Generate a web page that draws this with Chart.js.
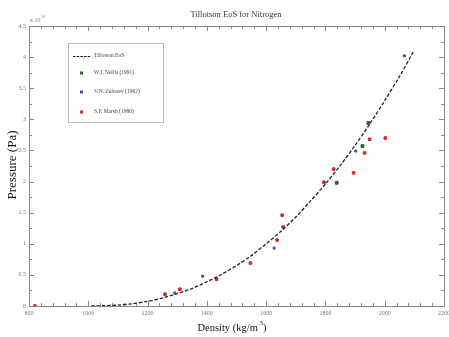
<!DOCTYPE html>
<html><head><meta charset="utf-8">
<script src="https://cdn.jsdelivr.net/npm/chart.js@4.4.0/dist/chart.umd.min.js"></script>
<style>html,body{margin:0;padding:0;background:#fff;}#wrap{width:449px;height:337px;}</style>
</head><body><div id="wrap"><canvas id="c" width="449" height="337"></canvas></div>
<script>
// Density in kg/m^3, pressure in units of 1e10 Pa
const eosDensity = [1010,1050,1100,1150,1200,1250,1300,1350,1400,1450,1500,1550,1600,1650,1700,1750,1800,1850,1900,1950,2000,2050,2096];
const eosPressure = [0,0.005,0.014,0.037,0.075,0.128,0.198,0.28,0.39,0.51,0.65,0.81,1.0,1.2,1.43,1.69,1.96,2.26,2.58,2.93,3.3,3.69,4.08];
const nellisDensity = [1838,1925,1945];
const nellisPressure = [1.98,2.57,2.94];
const zubarevDensity = [1292,1386,1627,1902,2066];
const zubarevPressure = [0.21,0.48,0.93,2.49,4.02];
const marshDensity = [820,1259,1309,1433,1547,1637,1654,1657,1795,1828,1895,1932,1949,2002];
const marshPressure = [0,0.19,0.27,0.43,0.69,1.06,1.46,1.27,1.99,2.2,2.14,2.46,2.68,2.70];
const xTickLabels = ['800','1000','1200','1400','1600','1800','2000','2200'];
const yTickLabels = ['0','0.5','1','1.5','2','2.5','3','3.5','4','4.5'];
const seriesLabels = ['Tillotson EoS','W.J. Nellis (1991)','V.N. Zubarev (1962)','S.P. Marsh (1980)'];

const pts = (xs, ys) => xs.map((x, i) => ({x: x, y: ys[i]}));

const framePlugin = {
  id: 'frame',
  beforeDatasetsDraw(chart) {
    const ctx = chart.ctx, a = chart.chartArea, xs = chart.scales.x, ys = chart.scales.y;
    ctx.save();
    ctx.strokeStyle = '#8a8a8a';
    ctx.lineWidth = 1;
    ctx.strokeRect(Math.round(a.left)+0.5, Math.round(a.top)+0.5, Math.round(a.right-a.left), Math.round(a.bottom-a.top));
    ctx.beginPath();
    for (let v = 800; v <= 2200; v += 40) {
      const px = Math.round(xs.getPixelForValue(v)) + 0.5;
      const major = (v % 200 === 0);
      const L = major ? 5 : 3;
      ctx.moveTo(px, a.bottom); ctx.lineTo(px, a.bottom - L);
      ctx.moveTo(px, a.top); ctx.lineTo(px, a.top + L);
    }
    for (let k = 0; k <= 18; k++) {
      const v = k * 0.25;
      const py = Math.round(ys.getPixelForValue(v)) + 0.5;
      const L = (k % 2 === 0) ? 5 : 3;
      ctx.moveTo(a.left, py); ctx.lineTo(a.left + L, py);
      ctx.moveTo(a.right, py); ctx.lineTo(a.right - L, py);
    }
    ctx.stroke();
    // tick labels
    ctx.fillStyle = '#777';
    ctx.font = '6px "Liberation Serif", serif';
    ctx.textAlign = 'center'; ctx.textBaseline = 'top';
    xTickLabels.forEach(t => {
      ctx.fillText(t, xs.getPixelForValue(Number(t)), a.bottom + 4);
    });
    ctx.textAlign = 'right'; ctx.textBaseline = 'middle';
    yTickLabels.forEach(t => {
      ctx.fillText(t, a.left - 3, ys.getPixelForValue(Number(t)));
    });
    ctx.textAlign = 'left'; ctx.textBaseline = 'alphabetic';
    ctx.fillText('x 10', a.left + 1, a.top - 4);
    ctx.font = '4px "Liberation Serif", serif';
    ctx.fillText('10', a.left + 12, a.top - 8);
    // title
    ctx.fillStyle = '#333';
    ctx.font = '8.5px "Liberation Serif", serif';
    ctx.textAlign = 'center';
    ctx.fillText('Tillotson EoS for Nitrogen', 236, 17);
    // axis titles
    ctx.fillStyle = '#111';
    const bigF = '10.5px "Liberation Serif", serif';
    ctx.font = bigF;
    const t1 = 'Density (kg/m', t2 = ')';
    const w1 = ctx.measureText(t1).width;
    ctx.font = '7px "Liberation Serif", serif';
    const w3 = ctx.measureText(' 3').width;
    ctx.font = bigF;
    const w2 = ctx.measureText(t2).width;
    let sx = 232 - (w1 + w3 + w2) / 2;
    ctx.textAlign = 'left';
    ctx.fillText(t1, sx, 331);
    ctx.font = '7px "Liberation Serif", serif';
    ctx.fillText(' 3', sx + w1, 325);
    ctx.font = bigF;
    ctx.fillText(t2, sx + w1 + w3, 331);
    ctx.save();
    ctx.translate(16, 165);
    ctx.rotate(-Math.PI / 2);
    ctx.textAlign = 'center';
    ctx.font = '13px "Liberation Serif", serif';
    ctx.fillText('Pressure (Pa)', 0, 0);
    ctx.restore();
    ctx.restore();
  },
  afterDraw(chart) {
    const ctx = chart.ctx;
    ctx.save();
    ctx.fillStyle = '#fff';
    ctx.strokeStyle = '#bbb';
    ctx.lineWidth = 1;
    ctx.fillRect(68.5, 43.5, 95, 79);
    ctx.strokeRect(68.5, 43.5, 95, 79);
    ctx.font = '5.5px "Liberation Serif", serif';
    ctx.textBaseline = 'middle';
    ctx.textAlign = 'left';
    ctx.fillStyle = '#444';
    const rows = [56, 73, 92, 112];
    const ds = chart.data.datasets;
    ctx.strokeStyle = '#111';
    ctx.setLineDash([2.5, 1.2]);
    ctx.lineWidth = 1;
    ctx.beginPath(); ctx.moveTo(73, rows[0] + 0.5); ctx.lineTo(90, rows[0] + 0.5); ctx.stroke();
    ctx.setLineDash([]);
    ctx.fillText(ds[0].label, 94, rows[0]);
    for (let i = 1; i < 4; i++) {
      ctx.fillStyle = ds[i].backgroundColor;
      ctx.fillRect(80, rows[i] - 1.5, 3, 3);
      ctx.fillStyle = '#444';
      ctx.fillText(ds[i].label, 94, rows[i]);
    }
    ctx.restore();
  }
};

new Chart(document.getElementById('c'), {
  type: 'scatter',
  data: {
    datasets: [
      {label: seriesLabels[0], data: pts(eosDensity, eosPressure), showLine: true, borderColor: '#222', borderWidth: 1.3, borderDash: [3.5, 1.8], pointRadius: 0, fill: false, tension: 0.3},
      {label: seriesLabels[1], data: pts(nellisDensity, nellisPressure), backgroundColor: '#1c6b22', borderColor: '#1c6b22', pointStyle: 'rect', pointRadius: 2},
      {label: seriesLabels[2], data: pts(zubarevDensity, zubarevPressure), backgroundColor: '#4a4aa8', borderColor: '#4a4aa8', pointStyle: 'rect', pointRadius: 1.4},
      {label: seriesLabels[3], data: pts(marshDensity, marshPressure), backgroundColor: '#d42a22', borderColor: '#d42a22', pointStyle: 'rect', pointRadius: 1.8}
    ]
  },
  options: {
    responsive: false,
    animation: false,
    events: [],
    layout: {padding: {left: 29, right: 3, top: 26, bottom: 31}},
    plugins: {legend: {display: false}, title: {display: false}, tooltip: {enabled: false}},
    scales: {
      x: {type: 'linear', min: 800, max: 2200, display: false},
      y: {type: 'linear', min: 0, max: 4.5, display: false}
    }
  },
  plugins: [framePlugin]
});
</script>
</body></html>
